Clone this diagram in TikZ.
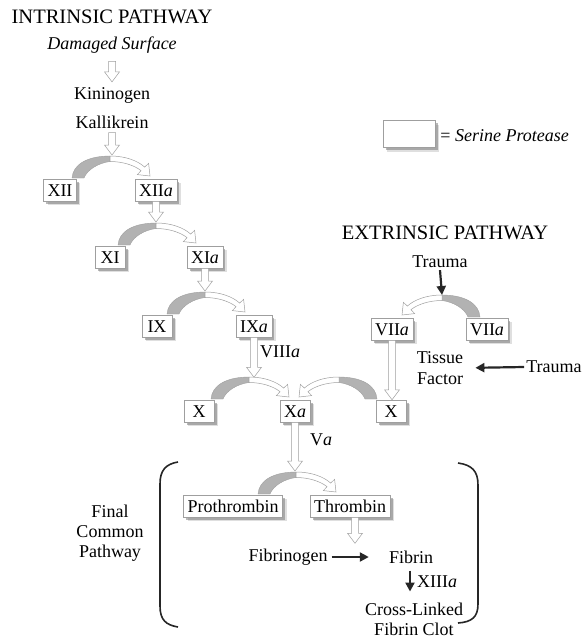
\documentclass[tikz,border=0pt]{standalone}
\usepackage{fontspec}
\setmainfont{Liberation Serif}
\usetikzlibrary{shadows,arrows.meta,calc}
\newcommand\hollowarr[2]{\filldraw[hol] let \p1=#1, \p2=#2 in
  (\x1-3.5pt,\y1) -- (\x1-3.5pt,\y2+10pt) -- (\x1-7.5pt,\y2+10pt) -- (\x1,\y2) --
  (\x1+7.5pt,\y2+10pt) -- (\x1+3.5pt,\y2+10pt) -- (\x1+3.5pt,\y1) -- cycle;}
\tikzset{
  base/.style={font=\fontsize{18}{21}\selectfont, inner sep=2pt},
  ttl/.style={font=\fontsize{20.5}{23}\selectfont, inner sep=2pt},
  box/.style={base, draw=gray!75, fill=white, line width=0.5pt, minimum height=22pt,
    minimum width=30pt, inner xsep=4pt, inner ysep=0pt, text height=12.5pt, text depth=0.5pt,
    drop shadow={shadow xshift=4pt, shadow yshift=-4pt, fill=black!25},
    drop shadow={shadow xshift=2.5pt, shadow yshift=-2.5pt, fill=black!55}},
  hol/.style={fill=white, draw=gray!75, line width=0.5pt},
  blk/.style={line width=2.2pt, black!85, -{Triangle[length=9pt,width=9pt]}},
  brk/.style={line width=1.6pt, black!85},
  conv/.pic={
    \filldraw[fill=gray!60, draw=gray!75, line width=0.4pt]
      (0,0) .. controls (1,-14) and (16,-22) .. (38,-22) -- (38,-16.5)
      .. controls (26,-15) and (15,-8) .. (12,0) -- cycle;
    \filldraw[hol]
      (38,-22) .. controls (54,-22) and (66,-17) .. (72.7,-10.9) -- (76.6,-14.7) -- (78,-2)
      -- (65.3,-3.4) -- (69.1,-7.3) .. controls (62,-13) and (50,-16.5) .. (38,-16.5) -- cycle;
  }
}
\begin{document}
\begin{tikzpicture}[x=1pt,y=-1pt]
\useasboundingbox (0,0) rectangle (582,640);
% titles and text
\node[ttl] (intr) at (112,17) {INTRINSIC PATHWAY};
\node[base] (dam) at (112,45) {\itshape Damaged Surface};
\node[base] (kin) at (112,95) {Kininogen};
\node[base] (kal) at (112,122) {Kallikrein};
\node[ttl] (extr) at (445,233) {EXTRINSIC PATHWAY};
\node[base] (tr1) at (440,262) {Trauma};
\node[base, align=center, inner sep=0pt] (tf) at (440,368) {Tissue\\Factor};
\node[base] (tr2) at (554,367) {Trauma};
% boxes
\node[box] (xii) at (60,190) {XII};
\node[box] (xiia) at (156,190) {XII\textit{a}};
\node[box] (xi) at (110,257) {XI};
\node[box] (xia) at (205,257) {XI\textit{a}};
\node[box] (ix) at (157,326) {IX};
\node[box] (ixa) at (254,326) {IX\textit{a}};
\node[box] (xl) at (199,411) {X};
\node[box] (xa) at (295,411) {X\textit{a}};
\node[box] (xr) at (391,411) {X};
\node[box] (viial) at (392,329) {VII\textit{a}};
\node[box] (viiar) at (487,329) {VII\textit{a}};
\node[box] (pro) at (233,506) {Prothrombin};
\node[box] (thr) at (350,506) {Thrombin};
\node[box, minimum width=52pt, minimum height=27pt] (leg) at (409,134) {};
\node[base, anchor=west] (legt) at ($(leg.east)+(3,2)$) {= \textit{Serine Protease}};
% labels
\node[base, anchor=west] (viii) at (258,352) {VIII\textit{a}};
\node[base, anchor=west] (va) at (308,440) {V\textit{a}};
\node[base] (fbg) at (288,557) {Fibrinogen};
\node[base] (fib) at (411,557) {Fibrin};
\node[base, anchor=west] (xiii) at (415,582) {XIII\textit{a}};
\node[base, align=center, inner sep=0pt] (clot) at (414,619) {Cross-Linked\\[-1pt]Fibrin Clot};
\node[base, align=center, inner sep=0pt] (fcp) at (110,533) {Final\\[-1pt]Common\\[-1pt]Pathway};
% conversion curves
\coordinate (c12) at (72,178);
\coordinate (c11) at (118,245);
\coordinate (c9) at (167,314);
\coordinate (cxl) at (211,399);
\coordinate (cxr) at (377,399);
\coordinate (cp) at (258,494);
\coordinate (c7) at (480,317);
\pic at (c12) {conv};
\pic at (c11) {conv};
\pic at (c9) {conv};
\pic at (cxl) {conv};
\pic[xscale=-1] at (cxr) {conv};
\pic at (cp) {conv};
\pic[xscale=-1] at (c7) {conv};
% hollow arrows
\hollowarr{($(dam.south)+(0,6)$)}{($(kin.north)+(0,-3)$)}
\hollowarr{($(kal.south)+(0,2)$)}{($(c12)+(38,-23)$)}
\hollowarr{(xiia.south)}{($(c11)+(38,-23)$)}
\hollowarr{(xia.south)}{($(c9)+(38,-23)$)}
\hollowarr{(ixa.south)}{($(ixa.south)+(0,40)$)}
\hollowarr{(viial.south)}{(xr.north)}
\hollowarr{(xa.south)}{($(cp)+(37,-23)$)}
\hollowarr{($(thr.south)+(5,0)$)}{($(thr.south)+(5,26)$)}
% black arrows
\draw[blk] (tr1.south) -- ($(c7)+(-38,-22)$);
\draw[blk, shorten >=12pt] (tr2.west) -- (tf.east);
\draw[blk, shorten <=2pt, shorten >=18pt] (fbg.east) -- (fib.west);
\draw[blk, shorten <=5pt, shorten >=1pt] (fib.south -| xiii.west) ++(-5,0) coordinate (xs) -- ($(xs)+(0,27)$);
% brackets
\draw[brk] (178,462) .. controls (166,464) and (160,470) .. (160,484) -- (160,606)
  .. controls (160,620) and (166,625) .. (178,627);
\draw[brk] (458,463) .. controls (472,465) and (478,471) .. (478,485) -- (478,604)
  .. controls (478,617) and (472,622) .. (458,623);
\end{tikzpicture}
\end{document}
